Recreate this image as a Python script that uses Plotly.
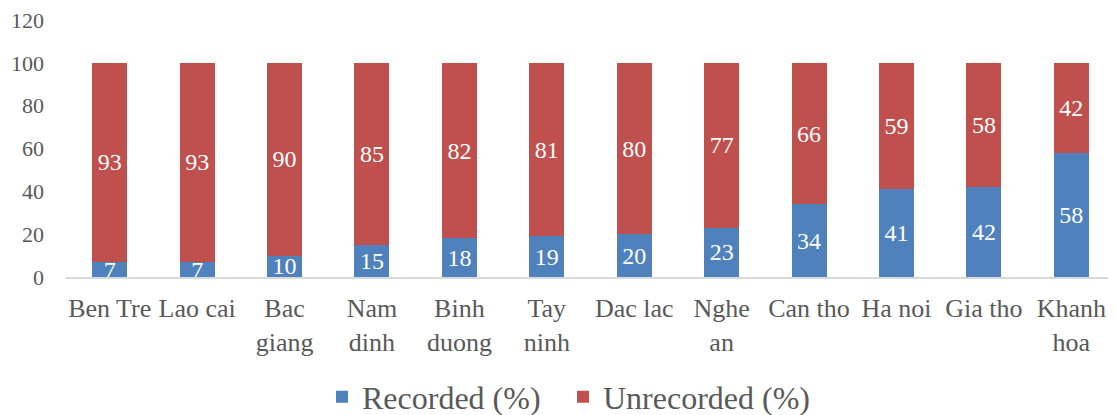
import plotly.graph_objects as go

categories = ["Ben Tre", "Lao cai", "Bac<br>giang", "Nam<br>dinh", "Binh<br>duong", "Tay<br>ninh",
              "Dac lac", "Nghe<br>an", "Can tho", "Ha noi", "Gia tho", "Khanh<br>hoa"]
recorded = [7, 7, 10, 15, 18, 19, 20, 23, 34, 41, 42, 58]
unrecorded = [93, 93, 90, 85, 82, 81, 80, 77, 66, 59, 58, 42]
y_ticks = [0, 20, 40, 60, 80, 100, 120]

FONT = "Liberation Serif, Times New Roman, serif"
GRAY = "#595959"

fig = go.Figure()
fig.add_trace(go.Bar(x=categories, y=recorded, name="Recorded (%)", marker_color="#4F81BD",
                     marker_line_width=0, text=recorded, textposition="inside",
                     insidetextanchor="middle", textangle=0, legendwidth=196,
                     textfont=dict(color="white", size=24, family=FONT)))
fig.add_trace(go.Bar(x=categories, y=unrecorded, name="Unrecorded (%)", marker_color="#C0504D",
                     marker_line_width=0, text=unrecorded, textposition="inside",
                     insidetextanchor="middle", textangle=0, legendwidth=220,
                     textfont=dict(color="white", size=24, family=FONT)))

# page has an 8px body margin, so the figure is 8px smaller than the window
fig.update_layout(
    barmode="stack", bargap=0.6,
    width=1108, height=407,
    margin=dict(l=58, r=1, t=12, b=138, autoexpand=False),
    plot_bgcolor="white", paper_bgcolor="white",
    font=dict(family=FONT, color=GRAY),
    uniformtext=dict(minsize=24, mode="show"),
    showlegend=True,
    legend=dict(orientation="h", traceorder="normal", xref="container", x=0.2834, xanchor="left",
                y=-0.467, yanchor="middle",
                font=dict(size=32, family=FONT, color=GRAY), itemwidth=30),
    xaxis=dict(showline=True, linecolor="#D9D9D9", linewidth=2, ticks="", automargin=False,
               ticklabelstandoff=7,
               tickfont=dict(size=26, family=FONT, color=GRAY)),
    yaxis=dict(range=[0, 120], tickvals=y_ticks, showgrid=False, zeroline=False, automargin=False,
               showline=False, ticks="", ticklabelstandoff=21, ticklabeloverflow="allow",
               tickfont=dict(size=22, family=FONT, color=GRAY)),
)

fig.write_html("out.html")
